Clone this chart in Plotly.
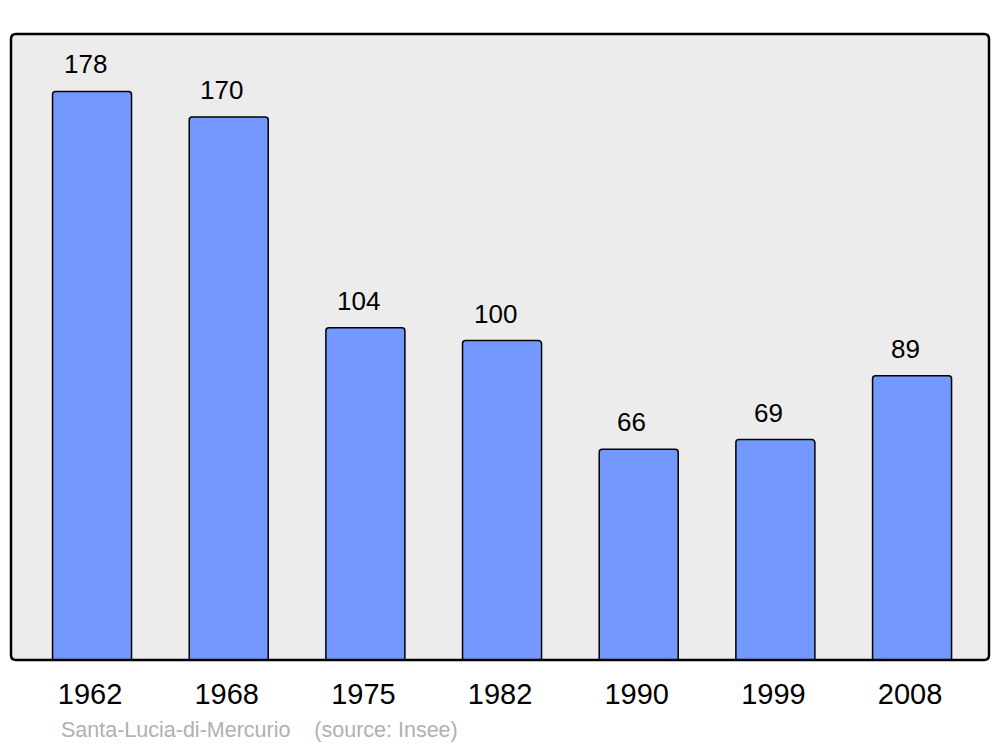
import plotly.graph_objects as go

years = ["1962", "1968", "1975", "1982", "1990", "1999", "2008"]
population = [178, 170, 104, 100, 66, 69, 89]
footer_text = "Santa-Lucia-di-Mercurio    (source: Insee)"

idx = list(range(len(years)))
FONT = "Liberation Sans, Arial, sans-serif"

fig = go.Figure()
fig.add_trace(go.Bar(
    x=idx, y=population, width=0.578,
    marker=dict(color="#7399ff", line=dict(color="#000000", width=1.5)),
    hoverinfo="skip",
))

for i, v in zip(idx, population):
    fig.add_annotation(x=i, y=v, text=str(v), showarrow=False,
                       xanchor="center", yanchor="middle", xshift=-7, yshift=27,
                       font=dict(family=FONT, size=26, color="#000000"))

fig.add_annotation(xref="paper", yref="paper", x=0.0491, y=-0.112, text=footer_text,
                   showarrow=False, xanchor="left", yanchor="middle",
                   font=dict(family=FONT, size=21.5, color="#b0b0b0"))

# rounded frame around the plot area
rx = 5 / 978
ry = 5 / 626
path = (f"M {rx},0 L {1-rx},0 Q 1,0 1,{ry} L 1,{1-ry} Q 1,1 {1-rx},1 "
        f"L {rx},1 Q 0,1 0,{1-ry} L 0,{ry} Q 0,0 {rx},0 Z")
fig.add_shape(type="path", xref="paper", yref="paper", path=path,
              line=dict(color="#000000", width=2.5), layer="above")

tick_pos = [i - 0.0146 for i in idx]

fig.update_layout(
    width=984, height=739,
    margin=dict(l=3, r=3, t=26, b=87),
    paper_bgcolor="#ffffff", plot_bgcolor="#ececec",
    barcornerradius=3,
    showlegend=False,
    xaxis=dict(range=[-0.593, 6.563], tickmode="array", tickvals=tick_pos, ticktext=years,
               showgrid=False, zeroline=False, showline=False, ticks="",
               ticklabelstandoff=14,
               tickfont=dict(family=FONT, size=29, color="#000000")),
    yaxis=dict(range=[0, 196], showgrid=False, zeroline=False, showline=False,
               showticklabels=False, ticks=""),
)

fig.write_html("out.html")
